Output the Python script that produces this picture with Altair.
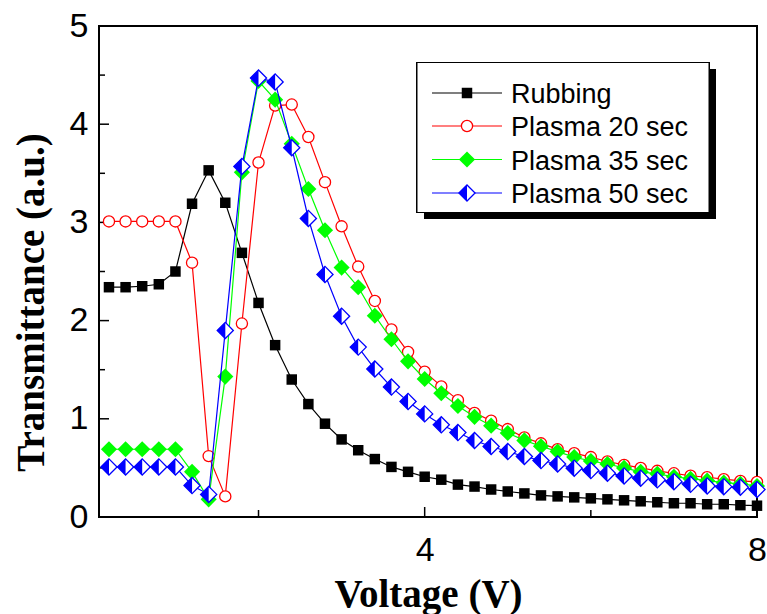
import altair as alt
import pandas as pd

# ---------------- data ----------------
voltage = [0.2, 0.4, 0.6, 0.8, 1.0, 1.2, 1.4, 1.6, 1.8, 2.0,
           2.2, 2.4, 2.6, 2.8, 3.0, 3.2, 3.4, 3.6, 3.8, 4.0,
           4.2, 4.4, 4.6, 4.8, 5.0, 5.2, 5.4, 5.6, 5.8, 6.0,
           6.2, 6.4, 6.6, 6.8, 7.0, 7.2, 7.4, 7.6, 7.8, 8.0]

rubbing = [2.34, 2.34, 2.35, 2.37, 2.50, 3.19, 3.53, 3.20, 2.69, 2.18,
           1.75, 1.40, 1.15, 0.95, 0.79, 0.68, 0.59, 0.51, 0.46, 0.41,
           0.38, 0.33, 0.31, 0.28, 0.26, 0.24, 0.22, 0.21, 0.20, 0.19,
           0.18, 0.17, 0.16, 0.15, 0.14, 0.14, 0.13, 0.13, 0.12, 0.115]

plasma20 = [3.01, 3.01, 3.01, 3.01, 3.01, 2.59, 0.62, 0.21, 1.97, 3.61,
            4.19, 4.20, 3.87, 3.41, 2.96, 2.55, 2.20, 1.91, 1.68, 1.48,
            1.33, 1.19, 1.06, 0.98, 0.895, 0.81, 0.75, 0.69, 0.65, 0.61,
            0.565, 0.53, 0.50, 0.47, 0.445, 0.42, 0.405, 0.385, 0.367, 0.357]

plasma35 = [0.69, 0.69, 0.69, 0.69, 0.69, 0.46, 0.18, 1.43, 3.51, 4.44,
            4.25, 3.80, 3.34, 2.92, 2.54, 2.34, 2.05, 1.81, 1.585, 1.405,
            1.26, 1.13, 1.02, 0.93, 0.855, 0.78, 0.72, 0.666, 0.61, 0.57,
            0.54, 0.50, 0.46, 0.44, 0.41, 0.39, 0.37, 0.35, 0.337, 0.316]

plasma50 = [0.51, 0.51, 0.51, 0.51, 0.51, 0.32, 0.23, 1.90, 3.57, 4.47,
            4.43, 3.76, 3.04, 2.47, 2.045, 1.73, 1.507, 1.323, 1.177, 1.05,
            0.939, 0.86, 0.779, 0.718, 0.667, 0.616, 0.575, 0.54, 0.497, 0.473,
            0.446, 0.418, 0.395, 0.378, 0.36, 0.333, 0.316, 0.309, 0.303, 0.28]

series_names = ["Rubbing", "Plasma 20 sec", "Plasma 35 sec", "Plasma 50 sec"]
series_colors = ["#000000", "#FF0000", "#00FF00", "#0000FF"]
series_values = [rubbing, plasma20, plasma35, plasma50]

y_tick_labels = [0, 1, 2, 3, 4, 5]
y_minor_ticks = [0.5, 1.5, 2.5, 3.5, 4.5]
x_tick_labels = [4, 8]
x_minor_ticks = [2, 6]

# ---------------- build ----------------
W, H = 658, 491
rows = []
for name, vals in zip(series_names, series_values):
    for v, t in zip(voltage, vals):
        rows.append({"V": v, "T": t, "series": name})
df = pd.DataFrame(rows)

xs = alt.Scale(domain=[0.08, 8], nice=False, zero=False)
ys = alt.Scale(domain=[0, 5], nice=False, zero=False)

x_axis = alt.Axis(values=x_tick_labels, grid=False, domain=False, ticks=False, tickSize=0,
                  labelFont="Liberation Sans", labelFontSize=34, labelColor="black",
                  labelBaseline="alphabetic", labelPadding=43, labelFlush=False,
                  labelOverlap=False,
                  titleFont="Liberation Serif", titleFontWeight="bold", titleFontSize=39,
                  titleColor="black", titleBaseline="alphabetic", titleY=89)
y_axis = alt.Axis(values=y_tick_labels, grid=False, domain=False, ticks=False, tickSize=0,
                  labelFont="Liberation Sans", labelFontSize=34, labelColor="black",
                  labelPadding=11, labelFlush=False, labelOverlap=False,
                  titleFont="Liberation Serif", titleFontWeight="bold", titleFontSize=39,
                  titleColor="black", titleBaseline="alphabetic", titleX=-56, titleY=276,
                  titleAlign="center")


def X(field):
    return alt.X(field, type="quantitative", scale=xs, axis=x_axis, title="Voltage (V)")


def Y(field):
    return alt.Y(field, type="quantitative", scale=ys, axis=y_axis, title="Transmittance (a.u.)")


SQ_SIZE = 110
CIRC_SIZE = 125
DIA_SIZE = 260
HALF = "M-1,0L0,-1L0,1Z"

layers = []

# inward ticks
yt_major = pd.DataFrame({"v": y_tick_labels})
yt_minor = pd.DataFrame({"v": y_minor_ticks})
xt_major = pd.DataFrame({"v": x_tick_labels})
xt_minor = pd.DataFrame({"v": x_minor_ticks})
layers.append(alt.Chart(yt_major).mark_rule(color="black", strokeWidth=1.5).encode(
    y=Y("v"), x=alt.value(0), x2=alt.value(10)))
layers.append(alt.Chart(yt_minor).mark_rule(color="black", strokeWidth=1.5).encode(
    y=Y("v"), x=alt.value(0), x2=alt.value(6)))
layers.append(alt.Chart(xt_major).mark_rule(color="black", strokeWidth=1.5).encode(
    x=X("v"), y=alt.value(H), y2=alt.value(H - 10)))
layers.append(alt.Chart(xt_minor).mark_rule(color="black", strokeWidth=1.5).encode(
    x=X("v"), y=alt.value(H), y2=alt.value(H - 7)))

for name, col in zip(series_names, series_colors):
    base = alt.Chart(df).transform_filter(alt.datum.series == name)
    layers.append(base.mark_line(color=col, strokeWidth=1.2).encode(x=X("V"), y=Y("T")))
    if name == "Rubbing":
        layers.append(base.mark_point(shape="square", filled=True, color=col, size=SQ_SIZE,
                                      opacity=1).encode(x=X("V"), y=Y("T")))
    elif name == "Plasma 20 sec":
        layers.append(base.mark_point(shape="circle", filled=True, fill="white", stroke=col,
                                      strokeWidth=1.3, size=CIRC_SIZE, opacity=1).encode(x=X("V"), y=Y("T")))
    elif name == "Plasma 35 sec":
        layers.append(base.mark_point(shape="diamond", filled=True, color=col, size=DIA_SIZE,
                                      opacity=1).encode(x=X("V"), y=Y("T")))
    else:
        layers.append(base.mark_point(shape="diamond", filled=True, fill="white", stroke=col,
                                      strokeWidth=1.3, size=DIA_SIZE, opacity=1).encode(x=X("V"), y=Y("T")))
        layers.append(base.mark_point(shape=HALF, filled=True, color=col, size=DIA_SIZE,
                                      opacity=1).encode(x=X("V"), y=Y("T")))

# legend box (drawn by hand)
layers.append(alt.Chart(df).mark_rect(color="black").encode(
    x=alt.value(325), x2=alt.value(617), y=alt.value(43), y2=alt.value(193)))
layers.append(alt.Chart(df).mark_rect(fill="white", stroke="black", strokeWidth=1).encode(
    x=alt.value(318), x2=alt.value(610), y=alt.value(36.5), y2=alt.value(186.5)))

row_y = [67, 100, 133.5, 167]
for i, (name, col) in enumerate(zip(series_names, series_colors)):
    ry = row_y[i]
    one = pd.DataFrame({"k": [0]})
    layers.append(alt.Chart(one).mark_rule(color=col, strokeWidth=1.2).encode(
        x=alt.value(333), x2=alt.value(403), y=alt.value(ry)))
    pos = dict(x=alt.value(368), y=alt.value(ry))
    if i == 0:
        layers.append(alt.Chart(one).mark_point(shape="square", filled=True, color=col, size=SQ_SIZE,
                                                opacity=1).encode(**pos))
    elif i == 1:
        layers.append(alt.Chart(one).mark_point(shape="circle", filled=True, fill="white", stroke=col,
                                                strokeWidth=1.3, size=CIRC_SIZE, opacity=1).encode(**pos))
    elif i == 2:
        layers.append(alt.Chart(one).mark_point(shape="diamond", filled=True, color=col, size=DIA_SIZE,
                                                opacity=1).encode(**pos))
    else:
        layers.append(alt.Chart(one).mark_point(shape="diamond", filled=True, fill="white", stroke=col,
                                                strokeWidth=1.3, size=DIA_SIZE, opacity=1).encode(**pos))
        layers.append(alt.Chart(one).mark_point(shape=HALF, filled=True, color=col, size=DIA_SIZE,
                                                opacity=1).encode(**pos))
    layers.append(alt.Chart(one).mark_text(align="left", baseline="alphabetic", fontSize=27,
                                           font="Liberation Sans", color="black").encode(
        x=alt.value(412), y=alt.value(ry + 10), text=alt.value(name)))

chart = alt.layer(*layers).properties(
    width=W, height=H,
    autosize=alt.AutoSizeParams(type="none"),
    padding={"left": 99, "top": 26, "right": 10, "bottom": 97},
    background="white",
).configure_view(stroke="black", strokeWidth=2)

chart.save("out.html", embed_options={"renderer": "svg", "actions": False})
